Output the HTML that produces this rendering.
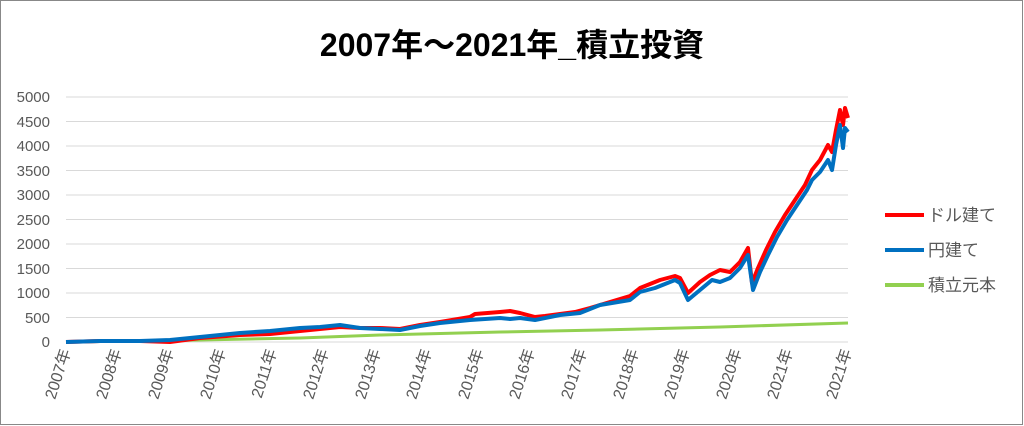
<!DOCTYPE html>
<html><head><meta charset="utf-8"><style>
body{margin:0;background:#fff}
svg{display:block}
text{font-family:"Liberation Sans","Noto Sans CJK JP",sans-serif}
</style></head><body>
<svg width="1024" height="426" viewBox="0 0 1024 426">
<rect x="0.5" y="0.5" width="1022" height="424" fill="#fff" stroke="#888"/>
<text x="512" y="56" text-anchor="middle" font-size="32" font-weight="bold" fill="#000">2007年～2021年_積立投資</text>
<g stroke="#d9d9d9" stroke-width="1">
<line x1="66" x2="848" y1="97" y2="97"/><line x1="66" x2="848" y1="121.5" y2="121.5"/>
<line x1="66" x2="848" y1="146" y2="146"/><line x1="66" x2="848" y1="170.5" y2="170.5"/>
<line x1="66" x2="848" y1="195" y2="195"/><line x1="66" x2="848" y1="219.5" y2="219.5"/>
<line x1="66" x2="848" y1="244" y2="244"/><line x1="66" x2="848" y1="268.5" y2="268.5"/>
<line x1="66" x2="848" y1="293" y2="293"/><line x1="66" x2="848" y1="317.5" y2="317.5"/>
<line x1="66" x2="848" y1="342" y2="342"/>
</g>
<g font-size="15" fill="#595959" text-anchor="end">
<text x="50" y="102">5000</text><text x="50" y="127">4500</text><text x="50" y="151">4000</text>
<text x="50" y="176">3500</text><text x="50" y="200">3000</text><text x="50" y="225">2500</text>
<text x="50" y="249">2000</text><text x="50" y="274">1500</text><text x="50" y="298">1000</text>
<text x="50" y="323">500</text><text x="50" y="347">0</text>
</g>
<g font-size="16" fill="#595959" text-anchor="end">
<text transform="translate(71,351) rotate(-72)">2007年</text>
<text transform="translate(122,351) rotate(-72)">2008年</text>
<text transform="translate(174,351) rotate(-72)">2009年</text>
<text transform="translate(226,351) rotate(-72)">2010年</text>
<text transform="translate(277,351) rotate(-72)">2011年</text>
<text transform="translate(329,351) rotate(-72)">2012年</text>
<text transform="translate(381,351) rotate(-72)">2013年</text>
<text transform="translate(432,351) rotate(-72)">2014年</text>
<text transform="translate(484,351) rotate(-72)">2015年</text>
<text transform="translate(535,351) rotate(-72)">2016年</text>
<text transform="translate(587,351) rotate(-72)">2017年</text>
<text transform="translate(639,351) rotate(-72)">2018年</text>
<text transform="translate(690,351) rotate(-72)">2019年</text>
<text transform="translate(742,351) rotate(-72)">2020年</text>
<text transform="translate(793,351) rotate(-72)">2021年</text>
<text transform="translate(852,351) rotate(-72)">2021年</text>
</g>
<polyline fill="none" stroke="#92d050" stroke-width="3" points="66,342 200,340 300,338 380,335 500,332 600,330 720,327 848,323"/>
<polyline fill="none" stroke="#ff0000" stroke-width="4" stroke-linejoin="round" points="66,342 100,341 140,341 170,342 200,338 240,335 270,334 300,331 320,329 340,327 360,328 380,328 400,329 420,325 440,322 470,317 475,314 500,312 510,311 520,313 535,317 545,316 560,314 575,312 590,308 610,302 630,296 640,288 660,280 675,276 680,278 688,293 700,282 710,275 720,270 730,272 740,262 748,248 752,283 758,268 766,250 775,232 785,215 795,200 805,185 812,170 820,160 828,145 832,152 836,130 840,110 843,125 845,108 848,118"/>
<polyline fill="none" stroke="#0070c0" stroke-width="4" stroke-linejoin="round" points="66,342 100,341 140,341 170,340 200,337 240,333 270,331 300,328 320,327 340,325 360,328 380,329 400,330 420,326 440,323 470,320 500,318 510,319 520,318 535,320 560,315 580,313 600,305 630,300 640,292 655,288 675,280 680,283 688,300 700,290 712,280 720,282 730,278 740,268 748,255 753,290 760,272 768,255 777,237 787,220 797,205 807,190 812,180 820,172 828,160 832,170 836,145 840,125 843,148 845,128 848,132"/>
<line x1="885" x2="924" y1="215" y2="215" stroke="#ff0000" stroke-width="4"/>
<line x1="885" x2="924" y1="250" y2="250" stroke="#0070c0" stroke-width="4"/>
<line x1="885" x2="924" y1="285" y2="285" stroke="#92d050" stroke-width="4"/>
<g font-size="17" fill="#595959">
<text x="928" y="221">ドル建て</text>
<text x="928" y="256">円建て</text>
<text x="928" y="291">積立元本</text>
</g>
</svg>
</body></html>
